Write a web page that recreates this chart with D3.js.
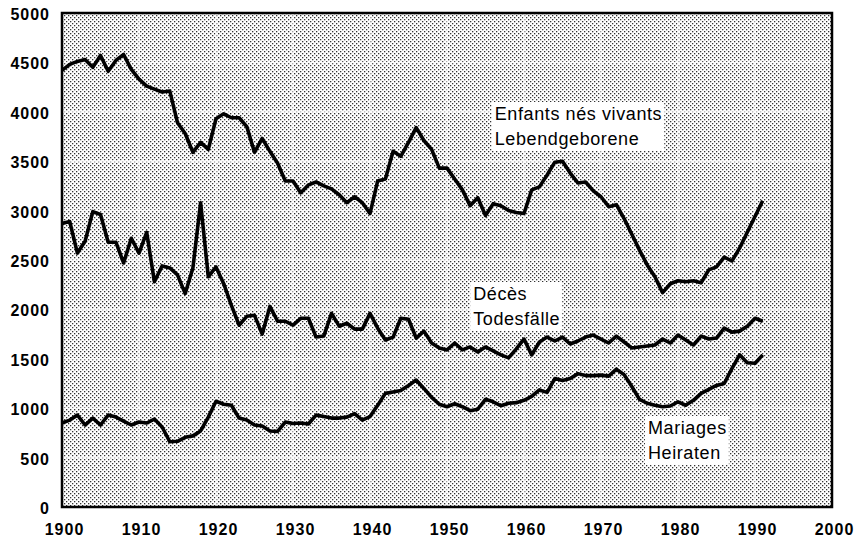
<!DOCTYPE html>
<html>
<head>
<meta charset="utf-8">
<script src="https://cdn.jsdelivr.net/npm/d3@7"></script>
<style>
  body { margin: 0; background: #fff; }
  text { font-family: "Liberation Sans", Arial, Helvetica, sans-serif; }
</style>
</head>
<body>
<div id="chart"></div>
<script>
// years 1900 - 1991
var years = d3.range(1900, 1992);

var births = [4420, 4480, 4510, 4530, 4450, 4570, 4410, 4520, 4580, 4430,
              4330, 4260, 4230, 4200, 4210, 3890, 3780, 3590, 3690, 3620,
              3930, 3980, 3940, 3940, 3850, 3590, 3730, 3600, 3480, 3300,
              3300, 3180, 3260, 3290, 3250, 3220, 3160, 3080, 3140, 3080,
              2970, 3300, 3320, 3600, 3550, 3690, 3840, 3710, 3620, 3430,
              3430, 3320, 3210, 3050, 3130, 2950, 3070, 3050, 3000, 2980,
              2970, 3210, 3240, 3360, 3490, 3500, 3380, 3280, 3290, 3200,
              3140, 3040, 3060, 2920, 2760, 2600, 2450, 2330, 2170, 2260,
              2290, 2280, 2290, 2270, 2400, 2430, 2530, 2490, 2620, 2780,
              2940, 3100];

var deaths = [2870, 2890, 2570, 2690, 2990, 2960, 2680, 2680, 2470, 2720,
              2570, 2780, 2280, 2440, 2420, 2350, 2160, 2420, 3080, 2330,
              2430, 2260, 2040, 1840, 1930, 1940, 1750, 2030, 1880, 1880,
              1840, 1910, 1910, 1720, 1730, 1960, 1830, 1860, 1800, 1800,
              1960, 1810, 1690, 1720, 1910, 1900, 1710, 1780, 1660, 1610,
              1590, 1660, 1590, 1620, 1570, 1620, 1580, 1540, 1510, 1600,
              1700, 1540, 1670, 1720, 1680, 1720, 1650, 1680, 1720, 1740,
              1700, 1660, 1730, 1670, 1610, 1620, 1630, 1640, 1700, 1660,
              1740, 1690, 1640, 1730, 1700, 1710, 1810, 1770, 1780, 1830,
              1910, 1880];

var marriages = [850, 880, 930, 830, 900, 830, 930, 910, 870, 830,
                 860, 850, 890, 810, 660, 665, 705, 720, 770, 910,
                 1070, 1040, 1030, 900, 880, 830, 820, 770, 765, 860,
                 845, 850, 840, 930, 915, 900, 900, 910, 945, 880,
                 915, 1030, 1150, 1165, 1180, 1230, 1285, 1200, 1110, 1040,
                 1015, 1045, 1015, 975, 990, 1090, 1065, 1025, 1050, 1056,
                 1080, 1120, 1185, 1160, 1300, 1280, 1300, 1350, 1330, 1330,
                 1335, 1325, 1395, 1340, 1220, 1090, 1050, 1030, 1015, 1022,
                 1065, 1030, 1080, 1150, 1190, 1230, 1250, 1400, 1540, 1460,
                 1455, 1540];

var xTicks = d3.range(1900, 2001, 10);
var yTicks = d3.range(0, 5001, 500);

var seriesLabels = [
    { lines: ["Enfants nés vivants", "Lebendgeborene"], year: 1956.2, value: 3917 },
    { lines: ["Décès", "Todesfälle"], year: 1953.4, value: 2095 },
    { lines: ["Mariages", "Heiraten"], year: 1976.1, value: 739 }
];

var margin = { top: 13, right: 26, bottom: 35, left: 62 };
var width = 858 - margin.left - margin.right;
var height = 542 - margin.top - margin.bottom;

var svg = d3.select("#chart")
  .append("svg")
    .attr("width", 858)
    .attr("height", 542)
  .append("g")
    .attr("transform", "translate(" + margin.left + "," + margin.top + ")");

// stipple background
var defs = d3.select("#chart svg").append("defs");
var pat = defs.append("pattern")
    .attr("id", "dots")
    .attr("width", 4)
    .attr("height", 4)
    .attr("patternUnits", "userSpaceOnUse");
pat.append("rect").attr("width", 4).attr("height", 4).attr("fill", "#fff");
pat.append("rect").attr("x", 0).attr("y", 0).attr("width", 1.3).attr("height", 1.3).attr("fill", "#333");
pat.append("rect").attr("x", 2).attr("y", 2).attr("width", 1.3).attr("height", 1.3).attr("fill", "#333");

var x = d3.scaleLinear().domain([1900, 2000]).range([0, width]);
var y = d3.scaleLinear().domain([0, 5000]).range([height, 0]);

svg.append("rect")
    .attr("width", width)
    .attr("height", height)
    .attr("fill", "url(#dots)");

// white grid lines
svg.append("g")
  .selectAll("line")
  .data(xTicks.slice(1, -1))
  .enter().append("line")
    .attr("x1", function(d) { return x(d); })
    .attr("x2", function(d) { return x(d); })
    .attr("y1", 0)
    .attr("y2", height)
    .attr("stroke", "#fff")
    .attr("stroke-width", 1.5)
    .attr("stroke-opacity", 0.7);

svg.append("g")
  .selectAll("line")
  .data(yTicks.slice(1, -1))
  .enter().append("line")
    .attr("x1", 0)
    .attr("x2", width)
    .attr("y1", function(d) { return y(d); })
    .attr("y2", function(d) { return y(d); })
    .attr("stroke", "#fff")
    .attr("stroke-width", 1.5)
    .attr("stroke-opacity", 0.7);

// lines
var line = d3.line()
    .x(function(d, i) { return x(years[i]); })
    .y(function(d) { return y(d); });

[births, deaths, marriages].forEach(function(s) {
    svg.append("path")
        .datum(s)
        .attr("fill", "none")
        .attr("stroke", "#000")
        .attr("stroke-width", 3.6)
        .attr("stroke-linejoin", "round")
        .attr("d", line);
});

// labels with white boxes
seriesLabels.forEach(function(l) {
    var g = svg.append("g")
        .attr("transform", "translate(" + x(l.year) + "," + y(l.value) + ")");
    var bg = g.append("rect").attr("fill", "#fff");
    var t = g.append("text")
        .attr("font-size", "18px")
        .attr("letter-spacing", "0.6px")
        .attr("fill", "#000");
    l.lines.forEach(function(s, i) {
        t.append("tspan").attr("x", 0).attr("y", i * 25).text(s);
    });
    var bb = t.node().getBBox();
    bg.attr("x", bb.x - 3).attr("y", bb.y - 2)
      .attr("width", bb.width + 5).attr("height", bb.height + 4);
});

// frame
svg.append("rect")
    .attr("width", width)
    .attr("height", height)
    .attr("fill", "none")
    .attr("stroke", "#000")
    .attr("stroke-width", 2.5);

// axes
var xAxis = svg.append("g")
    .attr("transform", "translate(0," + height + ")")
    .call(d3.axisBottom(x).tickValues(xTicks).tickFormat(d3.format("d")).tickSize(0).tickPadding(17));
var yAxis = svg.append("g")
    .call(d3.axisLeft(y).tickValues(yTicks).tickFormat(d3.format("d")).tickSize(0).tickPadding(12));

[xAxis, yAxis].forEach(function(a) {
    a.select(".domain").remove();
    a.selectAll("text")
        .attr("font-family", "'Liberation Sans', Arial, sans-serif")
        .attr("font-size", "16px")
        .attr("font-weight", "bold")
        .attr("letter-spacing", "1px")
        .attr("fill", "#000");
});
xAxis.selectAll("text").attr("dx", "2px");
yAxis.selectAll("text").attr("dy", "0.4em");
</script>
</body>
</html>
